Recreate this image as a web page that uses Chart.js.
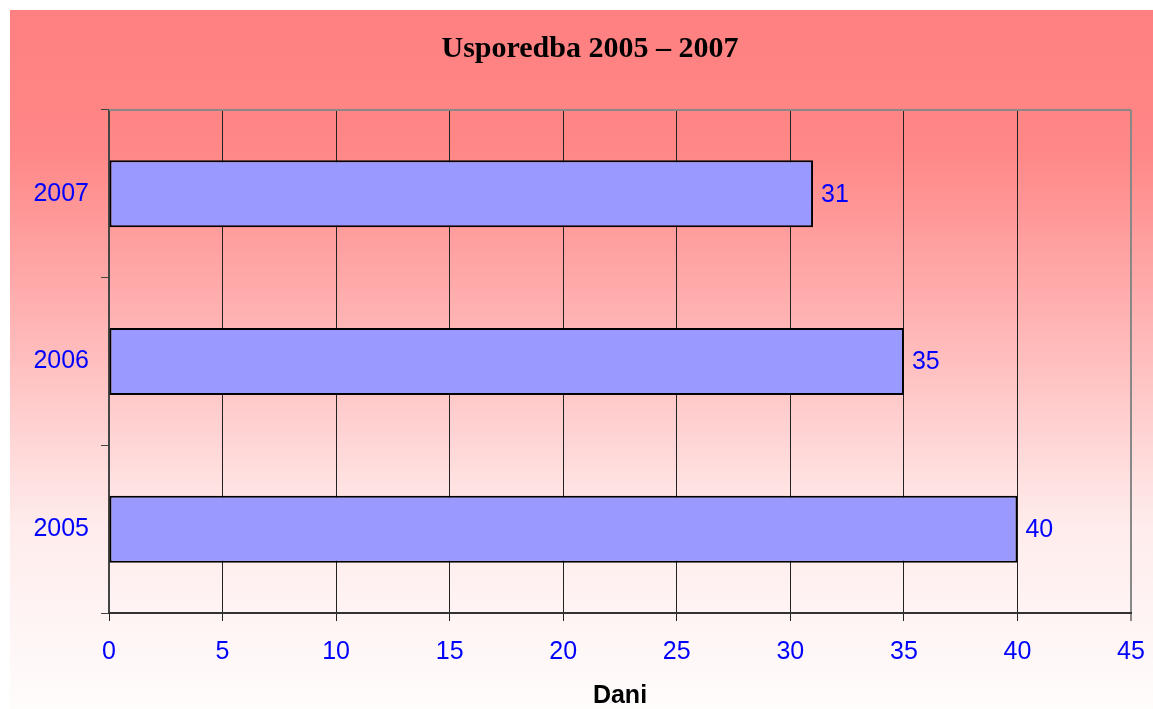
<!DOCTYPE html>
<html>
<head>
<meta charset="utf-8">
<script src="https://cdn.jsdelivr.net/npm/chart.js@4/dist/chart.umd.min.js"></script>
<style>
  html, body { margin: 0; padding: 0; background: #fff; }
  #wrap { width: 1153px; height: 709px; }
</style>
</head>
<body>
<div id="wrap"><canvas id="myChart" width="1153" height="709"></canvas></div>
<script>
// chart data
const years = ['2005', '2006', '2007'];
const days = [40, 35, 31];
const xTicks = [0, 5, 10, 15, 20, 25, 30, 35, 40, 45];
const chartTitle = 'Usporedba 2005 \u2013 2007';
const xTitle = 'Dani';

const ctx = document.getElementById('myChart');
const sans = '"Liberation Sans", Arial, sans-serif';

// pink-to-white backdrop, like the Excel chart area
const backdrop = {
    id: 'backdrop',
    beforeDraw(chart) {
        const c = chart.ctx;
        const w = chart.width, h = chart.height;
        c.save();
        c.fillStyle = '#ffffff';
        c.fillRect(0, 0, w, h);
        const g = c.createLinearGradient(0, 10, 0, h);
        g.addColorStop(0, 'rgb(255,128,128)');
        g.addColorStop(0.2, 'rgb(255,135,135)');
        g.addColorStop(0.49, 'rgb(255,188,188)');
        g.addColorStop(0.66, 'rgb(255,222,222)');
        g.addColorStop(0.74, 'rgb(255,236,236)');
        g.addColorStop(1, 'rgb(255,252,252)');
        c.fillStyle = g;
        c.fillRect(10, 10, w - 10, h - 10);
        c.restore();
    },
    afterDraw(chart) {
        const c = chart.ctx;
        const a = chart.chartArea;
        c.save();
        // top plot border (gray)
        c.strokeStyle = '#888888';
        c.lineWidth = 2;
        c.beginPath();
        c.moveTo(a.left, a.top);
        c.lineTo(a.right, a.top);
        c.stroke();
        // title
        c.fillStyle = '#000000';
        c.font = 'bold 30px "Liberation Serif", "Times New Roman", serif';
        c.textAlign = 'center';
        c.textBaseline = 'middle';
        c.fillText(chartTitle, 590, 49);
        c.restore();
    }
};

// value labels at the end of each bar
const valueLabels = {
    id: 'valueLabels',
    afterDatasetsDraw(chart) {
        const c = chart.ctx;
        const meta = chart.getDatasetMeta(0);
        c.save();
        c.fillStyle = '#0000ff';
        c.font = '25px ' + sans;
        c.textAlign = 'left';
        c.textBaseline = 'middle';
        meta.data.forEach((bar, i) => {
            c.fillText(String(days[i]), bar.x + 8, bar.y + 1);
        });
        c.restore();
    }
};

new Chart(ctx, {
    type: 'bar',
    data: {
        labels: years,
        datasets: [{
            data: days,
            backgroundColor: '#9999ff',
            borderColor: '#000000',
            borderWidth: 2,
            borderSkipped: false,
            categoryPercentage: 0.4,
            barPercentage: 1.0
        }]
    },
    options: {
        indexAxis: 'y',
        responsive: false,
        animation: false,
        layout: { padding: { top: 110, right: 22, left: 0, bottom: 0 } },
        plugins: {
            legend: { display: false },
            tooltip: { enabled: false },
            title: { display: false }
        },
        scales: {
            y: {
                reverse: true,
                afterFit: (scale) => { scale.width = 109; },
                grid: {
                    offset: true,
                    drawOnChartArea: false,
                    tickLength: 8,
                    color: '#444444'
                },
                border: { color: '#444444', width: 2 },
                ticks: {
                    color: '#0000ff',
                    padding: 12,
                    font: { family: sans, size: 25 }
                }
            },
            x: {
                min: 0,
                max: 45,
                afterFit: (scale) => {
                    scale.height = 96;
                    scale.paddingRight = 0;
                    scale.paddingLeft = 0;
                },
                afterBuildTicks: (scale) => { scale.ticks = xTicks.map(v => ({ value: v })); },
                grid: {
                    color: (c) => (c.tick && c.tick.value === 45) ? '#888888' : '#222222',
                    lineWidth: (c) => (c.tick && c.tick.value === 45) ? 2 : 1,
                    tickLength: 8
                },
                border: { color: '#333333', width: 2 },
                ticks: {
                    color: '#0000ff',
                    padding: 16,
                    maxRotation: 0,
                    font: { family: sans, size: 25 }
                },
                title: {
                    display: true,
                    text: xTitle,
                    color: '#000000',
                    padding: { top: 0, bottom: -2 },
                    font: { family: sans, size: 25, weight: 'bold' }
                }
            }
        }
    },
    plugins: [backdrop, valueLabels]
});
</script>
</body>
</html>
